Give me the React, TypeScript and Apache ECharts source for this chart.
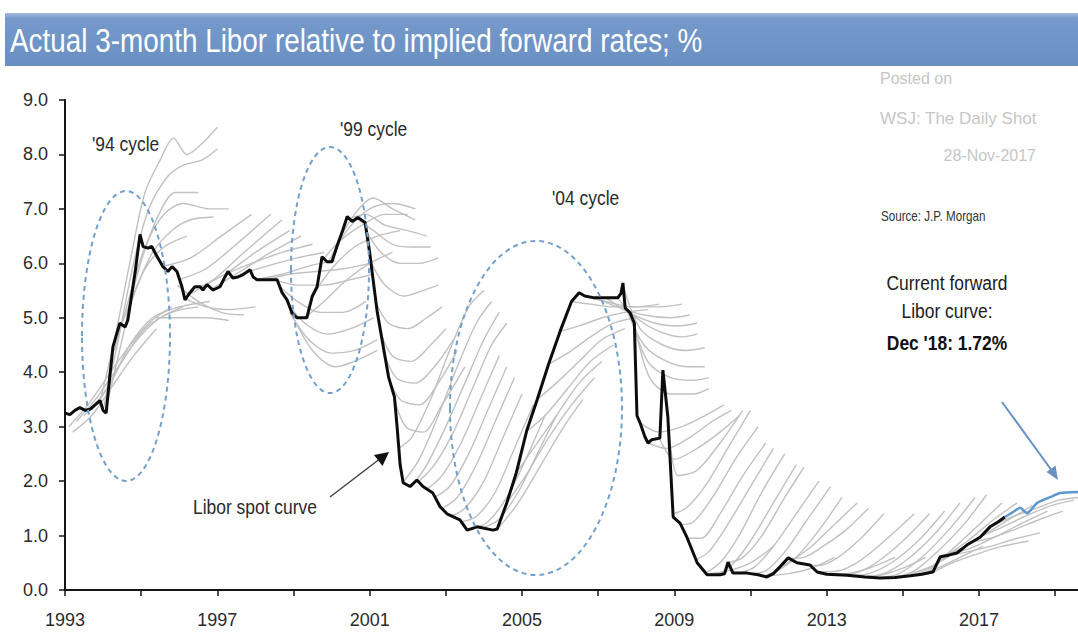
import React, { useEffect, useRef } from "react";
import * as echarts from "echarts";

type Pt = [number, number];

const SANS = "'Liberation Sans', Arial, sans-serif";
// Condensed look for the annotation texts
const SQUEEZE = 0.83;

const titleText = "Actual 3-month Libor relative to implied forward rates; %";
const labeledYears = [1993, 1997, 2001, 2005, 2009, 2013, 2017];

// Realised 3-month Libor (year, %)
const spotLibor: Pt[] = [
  [1993.0, 3.25], [1993.13, 3.22], [1993.26, 3.3], [1993.39, 3.35], [1993.53, 3.3], [1993.66, 3.32],
  [1993.79, 3.4], [1993.92, 3.48], [1994.0, 3.3], [1994.08, 3.25], [1994.18, 3.95], [1994.26, 4.47],
  [1994.44, 4.9], [1994.58, 4.83], [1994.65, 4.96], [1994.84, 5.83], [1994.97, 6.53], [1995.05, 6.31],
  [1995.18, 6.28], [1995.28, 6.31], [1995.42, 6.12], [1995.57, 5.94], [1995.7, 5.85], [1995.81, 5.94],
  [1995.94, 5.85], [1996.07, 5.57], [1996.15, 5.33], [1996.28, 5.46], [1996.41, 5.57], [1996.55, 5.57],
  [1996.62, 5.51], [1996.73, 5.61], [1996.89, 5.51], [1997.07, 5.57], [1997.2, 5.75], [1997.28, 5.85],
  [1997.41, 5.73], [1997.54, 5.75], [1997.67, 5.79], [1997.86, 5.88], [1997.94, 5.75], [1998.04, 5.7],
  [1998.3, 5.7], [1998.57, 5.7], [1998.7, 5.46], [1998.83, 5.33], [1998.96, 5.09], [1999.09, 5.0],
  [1999.35, 5.0], [1999.49, 5.39], [1999.62, 5.57], [1999.75, 6.12], [1999.88, 6.03], [2000.01, 6.03],
  [2000.14, 6.31], [2000.3, 6.62], [2000.41, 6.86], [2000.54, 6.77], [2000.69, 6.84], [2000.88, 6.75],
  [2001.0, 6.2], [2001.09, 5.7], [2001.2, 5.1], [2001.35, 4.5], [2001.5, 3.9], [2001.65, 3.55],
  [2001.72, 3.0], [2001.8, 2.3], [2001.88, 1.97], [2002.06, 1.9], [2002.24, 2.02], [2002.4, 1.9],
  [2002.66, 1.78], [2002.85, 1.53], [2003.03, 1.4], [2003.37, 1.29], [2003.56, 1.1], [2003.82, 1.16],
  [2004.24, 1.1], [2004.35, 1.12], [2004.6, 1.6], [2004.85, 2.15], [2005.13, 2.94], [2005.4, 3.5],
  [2005.7, 4.15], [2006.0, 4.75], [2006.3, 5.3], [2006.5, 5.46], [2006.65, 5.4], [2006.87, 5.37],
  [2007.52, 5.37], [2007.6, 5.45], [2007.65, 5.64], [2007.71, 5.18], [2007.84, 5.09], [2007.95, 4.9],
  [2008.02, 3.2], [2008.1, 3.07], [2008.23, 2.81], [2008.31, 2.7], [2008.41, 2.76], [2008.62, 2.79],
  [2008.7, 4.04], [2008.83, 3.18], [2008.97, 1.34], [2009.15, 1.23], [2009.33, 0.97], [2009.6, 0.5],
  [2009.86, 0.28], [2010.2, 0.28], [2010.32, 0.3], [2010.41, 0.51], [2010.54, 0.31], [2010.91, 0.31],
  [2011.2, 0.28], [2011.43, 0.24], [2011.6, 0.3], [2011.78, 0.43], [2011.99, 0.59], [2012.22, 0.5],
  [2012.56, 0.46], [2012.75, 0.33], [2013.0, 0.29], [2013.54, 0.27], [2014.0, 0.24], [2014.4, 0.22],
  [2014.8, 0.23], [2015.2, 0.26], [2015.5, 0.29], [2015.79, 0.33], [2015.98, 0.61], [2016.2, 0.64],
  [2016.42, 0.68], [2016.69, 0.83], [2017.03, 0.97], [2017.29, 1.16], [2017.5, 1.25], [2017.68, 1.34],
];

// Current market-implied forward Libor path
const currentForward: Pt[] = [
  [2017.68, 1.34], [2017.89, 1.43], [2018.08, 1.51], [2018.26, 1.41], [2018.53, 1.6],
  [2018.92, 1.72], [2019.13, 1.78], [2019.6, 1.8],
];

// Historical implied forward curves, grouped by rate cycle
const fwd1994: Pt[][] = [
  [[1993.9, 3.4], [1994.3, 4.6], [1994.7, 6.0], [1995.1, 7.3], [1995.5, 7.9], [1995.85, 8.3], [1996.2, 8.0], [1996.6, 8.2], [1997.0, 8.5]],
  [[1994.0, 3.3], [1994.4, 4.6], [1994.8, 6.0], [1995.2, 7.0], [1995.7, 7.6], [1996.1, 7.8], [1996.6, 7.9], [1997.0, 8.1]],
  [[1994.1, 3.4], [1994.5, 4.6], [1994.9, 5.8], [1995.4, 6.8], [1995.9, 7.3], [1996.5, 7.3]],
  [[1994.3, 4.4], [1994.7, 5.4], [1995.1, 6.3], [1995.6, 6.9], [1996.1, 7.1], [1996.8, 7.0], [1997.3, 7.0]],
  [[1994.5, 4.9], [1994.9, 5.6], [1995.3, 6.2], [1995.8, 6.6], [1996.3, 6.8], [1996.9, 6.85]],
  [[1994.7, 5.2], [1995.1, 5.9], [1995.6, 6.3], [1996.2, 6.5]],
  [[1993.1, 3.0], [1993.6, 3.4], [1994.1, 3.9], [1994.6, 4.4], [1995.2, 4.9], [1995.8, 5.2]],
  [[1993.3, 3.1], [1993.8, 3.5], [1994.3, 4.0], [1994.9, 4.6], [1995.5, 5.0], [1996.1, 5.2]],
  [[1993.5, 3.2], [1994.0, 3.6], [1994.5, 4.2], [1995.1, 4.8], [1995.8, 5.1], [1996.5, 5.2]],
  [[1993.7, 3.3], [1994.2, 3.8], [1994.7, 4.5], [1995.3, 5.0], [1996.0, 5.2], [1996.8, 5.3]],
  [[1993.2, 2.9], [1993.7, 3.2], [1994.2, 3.7], [1994.8, 4.3], [1995.4, 4.8]],
];

const fwd1997: Pt[][] = [
  [[1995.95, 5.6], [1996.5, 5.3], [1997.1, 5.1], [1997.7, 5.05]],
  [[1996.15, 5.35], [1996.7, 5.2], [1997.3, 5.15], [1998.0, 5.2]],
  [[1995.4, 5.0], [1996.0, 5.0], [1996.7, 5.0], [1997.3, 4.95]],
  [[1995.6, 5.95], [1996.3, 6.1], [1997.1, 6.5], [1997.9, 6.9]],
  [[1996.0, 5.7], [1996.7, 5.9], [1997.5, 6.35], [1998.4, 6.9]],
  [[1996.2, 5.4], [1996.9, 5.7], [1997.7, 6.2], [1998.7, 6.8]],
  [[1996.5, 5.55], [1997.2, 5.8], [1998.0, 6.2], [1998.9, 6.6]],
  [[1996.9, 5.55], [1997.6, 5.85], [1998.4, 6.2], [1999.2, 6.5]],
  [[1997.2, 5.8], [1997.9, 6.0], [1998.7, 6.2], [1999.5, 6.35]],
  [[1997.6, 5.8], [1998.3, 5.95], [1999.1, 6.1], [1999.8, 6.2]],
  [[1998.0, 5.7], [1998.7, 5.8], [1999.4, 5.95], [2000.1, 6.05]],
];

const fwd1999: Pt[][] = [
  [[1998.6, 5.6], [1999.1, 5.3], [1999.7, 5.1], [2000.3, 5.1], [2000.9, 5.3]],
  [[1998.8, 5.3], [1999.3, 4.9], [1999.9, 4.7], [2000.5, 4.8], [2001.1, 5.0]],
  [[1998.9, 5.1], [1999.4, 4.6], [2000.0, 4.35], [2000.6, 4.4], [2001.2, 4.6]],
  [[1999.0, 5.0], [1999.5, 4.4], [2000.1, 4.1], [2000.6, 4.2], [2001.2, 4.4]],
  [[1998.3, 5.7], [1998.9, 5.8], [1999.6, 5.85], [2000.3, 5.9], [2001.0, 6.0]],
  [[1998.5, 5.7], [1999.1, 5.6], [1999.8, 5.6], [2000.5, 5.7], [2001.1, 5.8]],
  [[1999.3, 5.0], [1999.8, 5.3], [2000.4, 5.7], [2001.0, 6.0], [2001.6, 6.2]],
  [[1999.5, 5.4], [2000.0, 5.9], [2000.6, 6.3], [2001.2, 6.5], [2001.8, 6.6]],
  [[1999.7, 6.0], [2000.2, 6.4], [2000.8, 6.7], [2001.4, 6.9], [2002.0, 6.9]],
  [[1999.9, 6.0], [2000.4, 6.6], [2001.0, 7.0], [2001.6, 7.1], [2002.2, 7.0]],
  [[2000.1, 6.3], [2000.6, 6.9], [2001.1, 7.2], [2001.6, 7.0], [2002.2, 6.8]],
  [[2000.4, 6.8], [2000.9, 6.9], [2001.4, 6.7], [2002.0, 6.6], [2002.5, 6.5]],
  [[2000.7, 6.8], [2001.1, 6.6], [2001.6, 6.35], [2002.1, 6.3], [2002.6, 6.3]],
  [[2000.9, 6.6], [2001.3, 6.2], [2001.8, 6.0], [2002.3, 6.0], [2002.8, 6.1]],
  [[2001.05, 6.0], [2001.4, 5.6], [2001.9, 5.4], [2002.4, 5.5], [2002.8, 5.6]],
  [[2001.15, 5.3], [2001.5, 4.9], [2002.0, 4.8], [2002.5, 5.0], [2002.9, 5.2]],
  [[2001.25, 4.8], [2001.6, 4.3], [2002.1, 4.2], [2002.6, 4.5], [2003.0, 4.8]],
  [[2001.35, 4.4], [2001.7, 3.9], [2002.2, 3.8], [2002.7, 4.1], [2003.2, 4.6]],
  [[2001.5, 3.9], [2001.8, 3.5], [2002.3, 3.4], [2002.8, 3.8], [2003.3, 4.4]],
  [[2001.65, 3.5], [2001.95, 3.0], [2002.4, 2.9], [2002.9, 3.4], [2003.5, 4.1]],
];

const fwd2004: Pt[][] = [
  [[2001.75, 2.6], [2002.1, 2.8], [2002.6, 3.5], [2003.1, 4.4], [2003.6, 5.2], [2004.0, 5.5]],
  [[2001.9, 2.0], [2002.3, 2.4], [2002.8, 3.2], [2003.3, 4.1], [2003.8, 4.9], [2004.2, 5.3]],
  [[2002.1, 1.9], [2002.5, 2.3], [2003.0, 3.0], [2003.5, 3.8], [2004.0, 4.6], [2004.4, 5.1]],
  [[2002.3, 2.0], [2002.7, 2.3], [2003.2, 2.9], [2003.7, 3.7], [2004.2, 4.5], [2004.6, 4.9]],
  [[2002.5, 1.85], [2002.9, 2.1], [2003.4, 2.7], [2003.9, 3.5], [2004.4, 4.3]],
  [[2002.7, 1.7], [2003.1, 1.9], [2003.6, 2.5], [2004.1, 3.3], [2004.6, 4.1]],
  [[2002.9, 1.5], [2003.3, 1.7], [2003.8, 2.3], [2004.3, 3.1], [2004.8, 3.9]],
  [[2003.1, 1.35], [2003.5, 1.5], [2004.0, 2.0], [2004.5, 2.8], [2005.0, 3.6]],
  [[2003.4, 1.25], [2003.8, 1.35], [2004.3, 1.8], [2004.8, 2.6], [2005.3, 3.4]],
  [[2003.7, 1.12], [2004.1, 1.25], [2004.6, 1.7], [2005.1, 2.4], [2005.6, 3.2]],
  [[2004.0, 1.15], [2004.4, 1.3], [2004.9, 1.8], [2005.4, 2.5], [2005.9, 3.2]],
  [[2004.4, 1.15], [2004.9, 1.6], [2005.5, 2.3], [2006.1, 3.0], [2006.6, 3.5]],
  [[2004.6, 1.6], [2005.1, 2.1], [2005.7, 2.8], [2006.3, 3.4], [2006.9, 3.9]],
  [[2004.85, 2.15], [2005.3, 2.6], [2005.9, 3.2], [2006.5, 3.8], [2007.1, 4.2]],
  [[2005.1, 2.9], [2005.6, 3.2], [2006.2, 3.7], [2006.8, 4.2], [2007.4, 4.5]],
  [[2005.4, 3.5], [2005.9, 3.8], [2006.5, 4.2], [2007.1, 4.6], [2007.7, 4.8]],
  [[2005.7, 4.15], [2006.2, 4.35], [2006.8, 4.65], [2007.4, 4.9], [2008.0, 5.0]],
  [[2006.0, 4.75], [2006.5, 4.85], [2007.1, 5.0], [2007.7, 5.1], [2008.3, 5.15]],
  [[2006.3, 5.3], [2006.8, 5.25], [2007.4, 5.2], [2008.0, 5.2], [2008.6, 5.25]],
];

const fwd2008: Pt[][] = [
  [[2006.6, 5.4], [2007.2, 5.3], [2007.9, 5.2], [2008.6, 5.2], [2009.2, 5.25]],
  [[2006.9, 5.37], [2007.5, 5.2], [2008.2, 5.05], [2008.9, 5.0], [2009.4, 5.05]],
  [[2007.2, 5.37], [2007.8, 5.1], [2008.5, 4.9], [2009.1, 4.85], [2009.6, 4.9]],
  [[2007.5, 5.37], [2008.0, 5.0], [2008.6, 4.75], [2009.2, 4.65], [2009.6, 4.7]],
  [[2007.65, 5.6], [2008.1, 4.8], [2008.7, 4.5], [2009.3, 4.4], [2009.8, 4.45]],
  [[2007.75, 5.15], [2008.2, 4.5], [2008.8, 4.2], [2009.4, 4.1], [2009.8, 4.1]],
  [[2007.85, 5.05], [2008.3, 4.2], [2008.9, 3.9], [2009.5, 3.85], [2009.9, 3.9]],
  [[2007.95, 4.9], [2008.35, 3.9], [2008.9, 3.6], [2009.5, 3.6], [2009.9, 3.7]],
  [[2008.1, 3.07], [2008.6, 2.9], [2009.2, 3.0], [2009.8, 3.2], [2010.3, 3.4]],
  [[2008.3, 2.7], [2008.8, 2.6], [2009.4, 2.8], [2010.0, 3.1], [2010.5, 3.3]],
  [[2008.6, 2.8], [2009.0, 2.4], [2009.6, 2.6], [2010.2, 2.9], [2010.7, 3.2]],
  [[2008.85, 3.0], [2009.1, 2.1], [2009.6, 2.2], [2010.2, 2.7], [2010.8, 3.3]],
  [[2008.97, 1.4], [2009.3, 1.5], [2009.8, 1.9], [2010.4, 2.6], [2011.0, 3.3]],
  [[2009.15, 1.2], [2009.5, 1.25], [2010.0, 1.7], [2010.6, 2.4], [2011.2, 3.0]],
  [[2009.35, 0.95], [2009.7, 0.95], [2010.2, 1.4], [2010.8, 2.1], [2011.4, 2.7]],
  [[2009.55, 0.55], [2009.9, 0.7], [2010.4, 1.2], [2011.0, 1.9], [2011.6, 2.6]],
  [[2009.8, 0.3], [2010.2, 0.5], [2010.7, 1.0], [2011.3, 1.8], [2011.9, 2.5]],
  [[2010.1, 0.28], [2010.5, 0.45], [2011.0, 0.9], [2011.6, 1.6], [2012.2, 2.3]],
  [[2010.4, 0.5], [2010.8, 0.6], [2011.3, 1.0], [2011.9, 1.7], [2012.4, 2.25]],
  [[2010.7, 0.31], [2011.1, 0.42], [2011.6, 0.8], [2012.2, 1.4], [2012.8, 2.0]],
  [[2011.0, 0.3], [2011.4, 0.35], [2011.9, 0.7], [2012.5, 1.3], [2013.1, 1.9]],
  [[2011.3, 0.25], [2011.7, 0.35], [2012.2, 0.6], [2012.8, 1.1], [2013.4, 1.7]],
  [[2011.7, 0.4], [2012.1, 0.55], [2012.6, 0.8], [2013.2, 1.2], [2013.8, 1.6]],
  [[2012.0, 0.58], [2012.4, 0.6], [2012.9, 0.8], [2013.5, 1.1], [2014.1, 1.5]],
  [[2012.4, 0.48], [2012.8, 0.45], [2013.3, 0.6], [2013.9, 0.95], [2014.5, 1.4]],
  [[2009.9, 0.3], [2010.4, 0.35], [2011.0, 0.5], [2011.6, 0.8]],
  [[2011.5, 0.26], [2012.0, 0.3], [2012.6, 0.4], [2013.2, 0.6]],
];

const fwd2015: Pt[][] = [
  [[2012.8, 0.33], [2013.3, 0.35], [2013.9, 0.55], [2014.6, 0.95], [2015.3, 1.4]],
  [[2013.2, 0.28], [2013.7, 0.3], [2014.3, 0.5], [2015.0, 0.9], [2015.7, 1.4]],
  [[2013.6, 0.27], [2014.1, 0.3], [2014.7, 0.5], [2015.4, 0.9], [2016.1, 1.45]],
  [[2014.0, 0.24], [2014.5, 0.3], [2015.1, 0.55], [2015.8, 1.0], [2016.5, 1.6]],
  [[2014.4, 0.22], [2014.9, 0.3], [2015.5, 0.6], [2016.2, 1.1], [2016.9, 1.7]],
  [[2014.8, 0.23], [2015.3, 0.35], [2015.9, 0.7], [2016.6, 1.2], [2017.2, 1.75]],
  [[2015.2, 0.26], [2015.7, 0.4], [2016.3, 0.75], [2017.0, 1.2], [2017.6, 1.6]],
  [[2015.6, 0.3], [2016.1, 0.6], [2016.7, 0.9], [2017.4, 1.3], [2018.0, 1.6]],
  [[2015.8, 0.33], [2016.3, 0.5], [2016.9, 0.65], [2017.6, 0.8], [2018.3, 0.9]],
  [[2016.0, 0.62], [2016.5, 0.75], [2017.1, 1.0], [2017.8, 1.3], [2018.4, 1.55]],
  [[2016.2, 0.64], [2016.7, 0.7], [2017.3, 0.8], [2018.0, 0.95], [2018.6, 1.05]],
  [[2016.4, 0.68], [2016.9, 0.8], [2017.5, 1.0], [2018.2, 1.25], [2018.8, 1.45]],
  [[2016.8, 0.88], [2017.3, 0.95], [2017.9, 1.1], [2018.6, 1.3], [2019.2, 1.45]],
  [[2017.1, 1.0], [2017.6, 1.15], [2018.2, 1.35], [2018.9, 1.55], [2019.5, 1.65]],
  [[2017.4, 1.2], [2017.9, 1.35], [2018.5, 1.5], [2019.1, 1.65], [2019.6, 1.7]],
  [[2012.9, 0.3], [2013.5, 0.3], [2014.1, 0.4], [2014.8, 0.6]],
  [[2013.8, 0.25], [2014.4, 0.27], [2015.0, 0.4], [2015.6, 0.6]],
  [[2014.6, 0.22], [2015.2, 0.3], [2015.8, 0.45], [2016.4, 0.7]],
  [[2015.4, 0.28], [2015.9, 0.4], [2016.5, 0.6], [2017.1, 0.8]],
];

const forwardCurves: Pt[][] = [...fwd1994, ...fwd1997, ...fwd1999, ...fwd2004, ...fwd2008, ...fwd2015];

const textDark = "#2b2b2b";
const ellipseStyle = { fill: "transparent", stroke: "#74a0cc", lineWidth: 2, lineDash: [5, 4] };

// Horizontally condensed text element
function label(text: string, x: number, y: number, fontSize: number, fill: string, extra: any = {}, squeeze = SQUEEZE) {
  return {
    type: "text",
    x,
    y,
    scaleX: squeeze,
    z: 20,
    style: { text, fill, fontSize, fontFamily: SANS, verticalAlign: "middle", ...extra },
  };
}

function buildOption(): any {
  const greySeries = forwardCurves.map((curve, i) => ({
    name: `fwd-${i}`,
    type: "line",
    data: curve,
    showSymbol: false,
    symbol: "none",
    smooth: 0.3,
    silent: true,
    z: 2,
    lineStyle: { color: "#c1c1c1", width: 1.4 },
  }));

  return {
    animation: false,
    backgroundColor: "#ffffff",
    grid: { left: 65, right: 0, top: 100, bottom: 43, outerBoundsMode: "none" },
    xAxis: {
      type: "value",
      min: 1993,
      max: 2019.6,
      interval: 2,
      splitLine: { show: false },
      axisLine: { show: true, lineStyle: { color: "#151515", width: 2 } },
      axisTick: { show: true, length: 6, lineStyle: { color: "#151515", width: 1.5 } },
      axisLabel: {
        showMaxLabel: false,
        margin: 21,
        fontSize: 18,
        color: textDark,
        fontFamily: SANS,
        formatter: (v: number) => (labeledYears.includes(v) ? String(v) : ""),
      },
    },
    yAxis: {
      type: "value",
      min: 0,
      max: 9,
      interval: 1,
      splitLine: { show: false },
      axisLine: { show: true, lineStyle: { color: "#151515", width: 2 } },
      axisTick: { show: true, length: 6, lineStyle: { color: "#151515", width: 1.5 } },
      axisLabel: {
        margin: 17,
        fontSize: 18,
        color: textDark,
        fontFamily: SANS,
        formatter: (v: number) => v.toFixed(1),
      },
    },
    series: [
      ...greySeries,
      {
        name: "Libor spot curve",
        type: "line",
        data: spotLibor,
        showSymbol: false,
        symbol: "none",
        silent: true,
        z: 4,
        lineStyle: { color: "#0d0d0d", width: 3 },
      },
      {
        name: "Current forward Libor curve",
        type: "line",
        data: currentForward,
        showSymbol: false,
        symbol: "none",
        smooth: 0.2,
        silent: true,
        z: 5,
        lineStyle: { color: "#5e97d0", width: 2.5 },
      },
    ],
    graphic: [
      {
        type: "rect",
        shape: { x: 5, y: 13, width: 1073, height: 53 },
        style: {
          fill: new echarts.graphic.LinearGradient(0, 0, 0, 1, [
            { offset: 0, color: "#a3bddf" },
            { offset: 0.1, color: "#7499ca" },
            { offset: 1, color: "#6a8fc2" },
          ]),
        },
        z: 1,
      },
      { ...label(titleText, 10, 41, 34, "#ffffff", {}, 0.82), z: 2 },
      label("Posted on", 880, 78, 16, "#c6c6c6", {}, 1),
      label("WSJ: The Daily Shot", 880, 118, 17, "#c6c6c6", {}, 1),
      label("28-Nov-2017", 1036, 155, 16, "#c6c6c6", { align: "right" }, 1),
      label("Source: J.P. Morgan", 881, 216, 14, "#333333"),
      label("Current forward", 947, 283, 21, "#1c1c1c", { align: "center" }),
      label("Libor curve:", 947, 311, 21, "#1c1c1c", { align: "center" }),
      label("Dec '18: 1.72%", 947, 343, 21, "#111111", { align: "center", fontWeight: "bold" }),
      label("'94 cycle", 92, 144, 21, textDark),
      label("'99 cycle", 340, 129, 21, textDark),
      label("'04 cycle", 552, 198, 21, textDark),
      label("Libor spot curve", 193, 507, 21, textDark),
      { type: "line", shape: { x1: 330, y1: 497, x2: 381, y2: 458 }, style: { stroke: "#444444", lineWidth: 1.5 }, z: 20 },
      { type: "polygon", shape: { points: [[389, 452], [382.5, 466], [374, 455]] }, style: { fill: "#111111" }, z: 20 },
      { type: "line", shape: { x1: 1002, y1: 402, x2: 1055, y2: 475 }, style: { stroke: "#6a92c2", lineWidth: 2 }, z: 20 },
      { type: "polygon", shape: { points: [[1058, 480], [1046.5, 472], [1055.5, 465.5]] }, style: { fill: "#6a92c2" }, z: 20 },
      { type: "ellipse", shape: { cx: 126, cy: 336, rx: 44, ry: 145 }, style: ellipseStyle, z: 15 },
      { type: "ellipse", shape: { cx: 330, cy: 270, rx: 39, ry: 123 }, style: ellipseStyle, z: 15 },
      { type: "ellipse", shape: { cx: 536, cy: 408, rx: 86, ry: 167 }, style: ellipseStyle, z: 15 },
    ],
  };
}

export default function App() {
  const ref = useRef<HTMLDivElement>(null);
  useEffect(() => {
    if (!ref.current) return;
    const chart = echarts.init(ref.current, null, { renderer: "svg" });
    chart.setOption(buildOption());
    return () => chart.dispose();
  }, []);
  return (
    <div
      ref={ref}
      style={{ position: "fixed", left: 0, top: 0, width: 1078, height: 633, background: "#ffffff" }}
    />
  );
}
